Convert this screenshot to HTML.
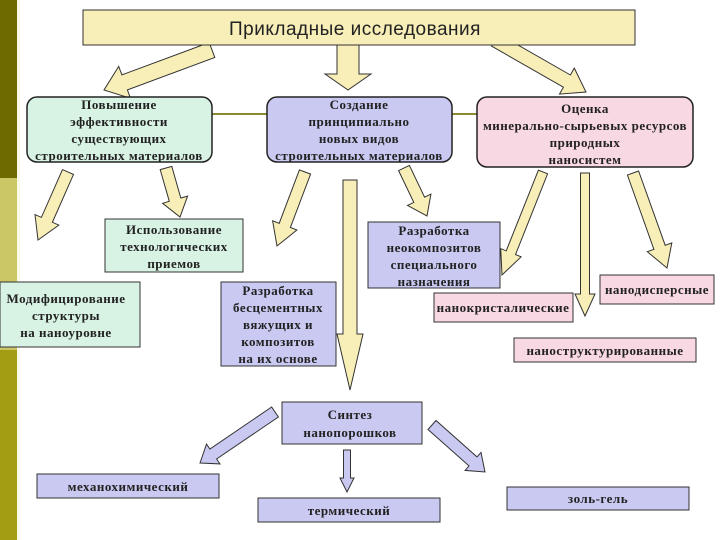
<!DOCTYPE html>
<html><head><meta charset="utf-8"><style>
html,body{margin:0;padding:0;background:#fff}
svg{display:block}
text{font-family:"Liberation Serif",serif;font-weight:bold;font-size:13px;letter-spacing:0.5px;fill:#222}
</style></head><body>
<svg id="s" width="720" height="540" xmlns="http://www.w3.org/2000/svg">
<rect x="0" y="0" width="720" height="540" fill="#fff"/>
<rect x="0" y="0" width="17" height="178" fill="#6e6a00"/>
<rect x="0" y="178" width="17" height="172" fill="#cbc765"/>
<rect x="0" y="350" width="17" height="190" fill="#a29d12"/>
<rect x="17" y="0" width="3" height="540" fill="#fafae8"/>

<g id="arrows"></g>

<line x1="212" y1="114" x2="267" y2="114" stroke="#8a8a30" stroke-width="2"/>
<line x1="452" y1="114" x2="477" y2="114" stroke="#8a8a30" stroke-width="2"/>

<rect x="83" y="10" width="552" height="35" fill="#f7eeb8" stroke="#333" stroke-width="1"/>
<text x="355" y="35" text-anchor="middle" style="font-family:'Liberation Sans',sans-serif;font-weight:normal;font-size:19px;letter-spacing:0.5px">Прикладные исследования</text>

<rect x="27" y="97" width="185" height="65" rx="10" fill="#d8f2e4" stroke="#222" stroke-width="1.5"/>
<text x="119" y="109" text-anchor="middle">Повышение</text>
<text x="119" y="126" text-anchor="middle">эффективности</text>
<text x="119" y="143" text-anchor="middle">существующих</text>
<text x="119" y="160" text-anchor="middle">строительных материалов</text>

<rect x="267" y="97" width="185" height="65" rx="10" fill="#c9c9f2" stroke="#222" stroke-width="1.5"/>
<text x="359" y="109" text-anchor="middle">Создание</text>
<text x="359" y="126" text-anchor="middle">принципиально</text>
<text x="359" y="143" text-anchor="middle">новых видов</text>
<text x="359" y="160" text-anchor="middle">строительных материалов</text>

<rect x="477" y="97" width="216" height="70" rx="10" fill="#f8d8e2" stroke="#222" stroke-width="1.5"/>
<text x="585" y="113" text-anchor="middle">Оценка</text>
<text x="585" y="130" text-anchor="middle">минерально-сырьевых ресурсов</text>
<text x="585" y="147" text-anchor="middle">природных</text>
<text x="585" y="164" text-anchor="middle">наносистем</text>

<rect x="105" y="219" width="138" height="53" fill="#d8f2e4" stroke="#333"/>
<text x="174" y="234" text-anchor="middle">Использование</text>
<text x="174" y="251" text-anchor="middle">технологических</text>
<text x="174" y="268" text-anchor="middle">приемов</text>

<rect x="0" y="282" width="140" height="65" fill="#d8f2e4" stroke="#333"/>
<text x="66" y="303" text-anchor="middle">Модифицирование</text>
<text x="66" y="320" text-anchor="middle">структуры</text>
<text x="66" y="337" text-anchor="middle">на наноуровне</text>

<rect x="221" y="282" width="115" height="84" fill="#c9c9f2" stroke="#333"/>
<text x="278" y="295" text-anchor="middle">Разработка</text>
<text x="278" y="312" text-anchor="middle">бесцементных</text>
<text x="278" y="329" text-anchor="middle">вяжущих и</text>
<text x="278" y="346" text-anchor="middle">композитов</text>
<text x="278" y="363" text-anchor="middle">на их основе</text>

<rect x="368" y="222" width="132" height="66" fill="#c9c9f2" stroke="#333"/>
<text x="434" y="235" text-anchor="middle">Разработка</text>
<text x="434" y="252" text-anchor="middle">неокомпозитов</text>
<text x="434" y="269" text-anchor="middle">специального</text>
<text x="434" y="286" text-anchor="middle">назначения</text>

<rect x="434" y="293" width="139" height="29" fill="#f8d8e2" stroke="#333"/>
<text x="503" y="312" text-anchor="middle">нанокристалические</text>
<rect x="600" y="275" width="114" height="29" fill="#f8d8e2" stroke="#333"/>
<text x="657" y="294" text-anchor="middle">нанодисперсные</text>
<rect x="514" y="338" width="182" height="24" fill="#f8d8e2" stroke="#333"/>
<text x="605" y="355" text-anchor="middle">наноструктурированные</text>

<rect x="282" y="402" width="140" height="42" fill="#c9c9f2" stroke="#333"/>
<text x="350" y="419" text-anchor="middle">Синтез</text>
<text x="350" y="437" text-anchor="middle">нанопорошков</text>

<rect x="37" y="474" width="182" height="24" fill="#c9c9f2" stroke="#333"/>
<text x="128" y="491" text-anchor="middle">механохимический</text>
<rect x="258" y="498" width="182" height="24" fill="#c9c9f2" stroke="#333"/>
<text x="349" y="515" text-anchor="middle">термический</text>
<rect x="507" y="487" width="182" height="23" fill="#c9c9f2" stroke="#333"/>
<text x="598" y="503" text-anchor="middle">золь-гель</text>
</svg>
<script>
function arr(x1,y1,x2,y2,sw,hw,hl,fill){
 var dx=x2-x1,dy=y2-y1,L=Math.sqrt(dx*dx+dy*dy),ux=dx/L,uy=dy/L,px=-uy,py=ux;
 var bx=x2-ux*hl,by=y2-uy*hl;
 var p=[[x1+px*sw/2,y1+py*sw/2],[bx+px*sw/2,by+py*sw/2],[bx+px*hw/2,by+py*hw/2],[x2,y2],
 [bx-px*hw/2,by-py*hw/2],[bx-px*sw/2,by-py*sw/2],[x1-px*sw/2,y1-py*sw/2]];
 var e=document.createElementNS("http://www.w3.org/2000/svg","polygon");
 e.setAttribute("points",p.map(function(q){return q[0].toFixed(1)+","+q[1].toFixed(1)}).join(" "));
 e.setAttribute("fill",fill);e.setAttribute("stroke","#333");e.setAttribute("stroke-width","1");
 document.getElementById("arrows").appendChild(e);
}
var Y="#f7eeb8",V="#c9c9f2";
arr(212,50,104,90,16,34,22,Y);
arr(348,36,348,90,22,46,16,Y);
arr(495,40,586,92,14,30,22,Y);
arr(68,172,38,240,12,26,22,Y);
arr(166,168,180,217,12,26,18,Y);
arr(305,172,277,246,12,26,22,Y);
arr(404,168,427,216,12,26,18,Y);
arr(543,172,502,275,10,22,24,Y);
arr(633,173,667,268,12,26,22,Y);
arr(350,180,350,390,14,26,56,Y);
arr(585,173,585,316,9,20,22,Y);
arr(275,412,200,463,12,24,16,V);
arr(347,450,347,492,7,14,14,V);
arr(432,425,485,472,12,24,16,V);
</script>
</body></html>
